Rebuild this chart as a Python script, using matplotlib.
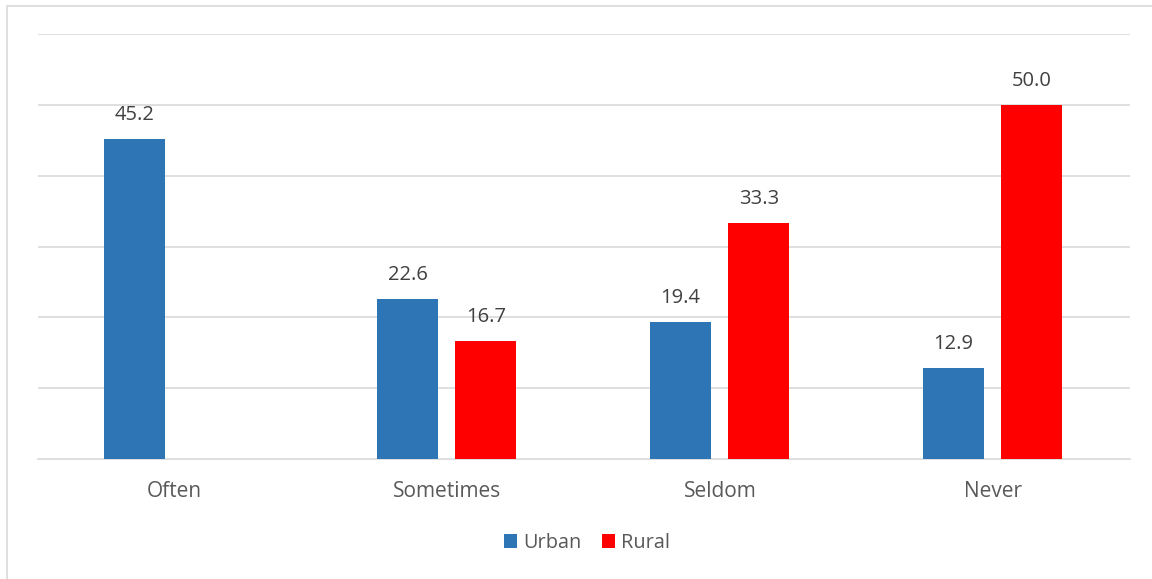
import matplotlib.pyplot as plt
import numpy as np
from matplotlib.patches import Rectangle

categories = ['Often', 'Sometimes', 'Seldom', 'Never']
urban = [45.2, 22.6, 19.4, 12.9]
rural = [None, 16.7, 33.3, 50.0]

URBAN_COLOR = '#2E75B6'
RURAL_COLOR = '#FF0000'
TEXT_COLOR = '#595959'
GRID_COLOR = '#D9D9D9'

plt.rcParams['font.family'] = ['Open Sans', 'DejaVu Sans']

fig = plt.figure(figsize=(11.52, 5.79), dpi=100)
ax = fig.add_axes([38 / 1152, 120 / 579, 1092 / 1152, 425 / 579])

# light frame around the chart area (runs off the right/bottom edges)
fig.patches.append(Rectangle((6.5 / 1152, -0.1), 1.2, 1.1 - 6.5 / 579,
                             transform=fig.transFigure, fill=False,
                             edgecolor='#D9D9D9', linewidth=1.2, zorder=0))

x = np.arange(len(categories))
width = 0.223
offset = 0.143

u_vals = [v if v is not None else 0 for v in urban]
r_vals = [v if v is not None else 0 for v in rural]

ub = ax.bar(x - offset - 0.003, u_vals, width, color=URBAN_COLOR, label='Urban', zorder=3)
rb = ax.bar(x + offset - 0.003, r_vals, width, color=RURAL_COLOR, label='Rural', zorder=3)

for bars, vals in ((ub, urban), (rb, rural)):
    for bar, v in zip(bars, vals):
        if v is None:
            continue
        ax.annotate(f'{v:.1f}', (bar.get_x() + bar.get_width() / 2, v),
                    xytext=(0, 10), textcoords='offset points',
                    ha='center', va='bottom', fontsize=14.5, color='#404040')

ax.set_xlim(-0.5, len(categories) - 0.5)
ax.set_ylim(0, 60)
ax.set_yticks(np.arange(10, 61, 10))
ax.yaxis.grid(True, color=GRID_COLOR, linewidth=1.2, zorder=0)
ax.set_axisbelow(True)
ax.tick_params(axis='y', left=False, labelleft=False)
ax.tick_params(axis='x', bottom=False, labelsize=15, labelcolor=TEXT_COLOR, pad=12)
ax.set_xticks(x)
ax.set_xticklabels(categories)

for side in ('top', 'right', 'left'):
    ax.spines[side].set_visible(False)
ax.spines['bottom'].set_color(GRID_COLOR)
ax.spines['bottom'].set_linewidth(1.2)

leg = fig.legend(handles=[ub, rb], labels=['Urban', 'Rural'], loc='center',
                 bbox_to_anchor=(587 / 1152, 1 - 543 / 579), ncol=2, frameon=False,
                 fontsize=14.3, handlelength=0.7, handleheight=0.7,
                 handletextpad=0.3, columnspacing=1.0)
for t in leg.get_texts():
    t.set_color(TEXT_COLOR)

fig.savefig('out.png', dpi=100, facecolor='white')
